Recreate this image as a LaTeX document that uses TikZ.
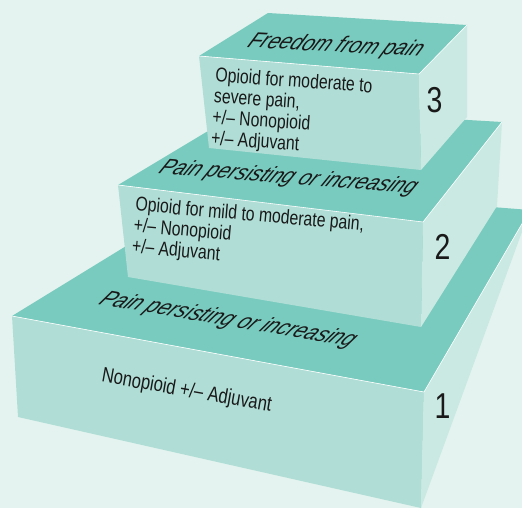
\documentclass[tikz,border=0pt]{standalone}
\usepackage{fontspec}
\newfontfamily\ladderfont{Liberation Sans}[FakeStretch=0.79]
\definecolor{LadderTop}{RGB}{121,203,191}
\definecolor{LadderFront}{RGB}{176,222,214}
\definecolor{LadderSide}{RGB}{201,233,226}
\definecolor{LadderBack}{RGB}{228,243,239}

\begin{document}
\begin{tikzpicture}[x=1pt, y=-1pt,
        topface/.style={fill=LadderTop},
        frontface/.style={fill=LadderFront},
        sideface/.style={fill=LadderSide},
        edgeline/.style={draw=white, line width=0.6pt, line join=round},
        fronttext/.style={font=\ladderfont\fontsize{20}{21}\selectfont, align=left, anchor=north west, inner sep=0pt, text=black!90},
        toptext/.style={font=\ladderfont\itshape\fontsize{20}{20}\selectfont, anchor=base west, inner sep=0pt, text=black!90},
        levelnum/.style={font=\ladderfont\fontsize{36}{36}\selectfont, inner sep=0pt, text=black!90}
    ]
        \useasboundingbox (0,0) rectangle (522,508);
        \clip (0,0) rectangle (522,508);
        \fill[LadderBack] (0,0) rectangle (522,508);

        % level 1
        \coordinate (a1) at (12,316);
        \coordinate (b1) at (424,392);
        \coordinate (c1) at (421,508);
        \coordinate (d1) at (18,417);
        \coordinate (e1) at (530,210);
        \coordinate (f1) at (224,186);
        \fill[topface] (a1) -- (b1) -- (e1) -- (f1) -- cycle;
        \fill[frontface] (a1) -- (b1) -- (c1) -- (d1) -- cycle;
        \fill[sideface] (b1) -- (e1) -- (c1) -- cycle;
        \draw[edgeline] (a1) -- (b1) -- (e1);

        % level 2
        \coordinate (a2) at (118,185);
        \coordinate (b2) at (423,222);
        \coordinate (c2) at (421,327);
        \coordinate (d2) at (128,277);
        \coordinate (e2) at (502,122);
        \coordinate (f2) at (248,107);
        \coordinate (g2) at (497,206);
        \fill[topface] (a2) -- (b2) -- (e2) -- (f2) -- cycle;
        \fill[frontface] (a2) -- (b2) -- (c2) -- (d2) -- cycle;
        \fill[sideface] (b2) -- (e2) -- (g2) -- (c2) -- cycle;
        \draw[edgeline] (a2) -- (b2) -- (e2);

        % level 3
        \coordinate (a3) at (199,56);
        \coordinate (b3) at (419,74);
        \coordinate (c3) at (421,170);
        \coordinate (d3) at (209,148);
        \coordinate (e3) at (467,25);
        \coordinate (f3) at (268,13);
        \coordinate (g3) at (467,117);
        \fill[topface] (a3) -- (b3) -- (e3) -- (f3) -- cycle;
        \fill[frontface] (a3) -- (b3) -- (c3) -- (d3) -- cycle;
        \fill[sideface] (b3) -- (e3) -- (g3) -- (c3) -- cycle;
        \draw[edgeline] (a3) -- (b3) -- (e3);

        % labels on the top faces
        \node[toptext, cm={1.272,-0.215,0.8,1.0,(0,0)}] (top1) at (97.3,304) {Pain persisting or increasing};
        \node[toptext, cm={1.286,-0.101,0.65,1.05,(0,0)}] (top2) at (157.3,173.3) {Pain persisting or increasing};
        \node[toptext, cm={1.298,-0.068,0.6,1.08,(0,0)}] (top3) at (246,47.3) {Freedom from pain};

        % labels on the front faces
        \node[fronttext, font=\ladderfont\fontsize{21}{21}\selectfont, rotate=-10] (text1) at (103.5,366.5) {Nonopioid +/– Adjuvant};
        \node[fronttext, rotate=-5] (text2) at (136.3,196.2) {Opioid for mild to moderate pain,\\+/– Nonopioid\\+/– Adjuvant};
        \node[fronttext, rotate=-4] (text3) at (216,67) {Opioid for moderate to\\severe pain,\\+/– Nonopioid\\+/– Adjuvant};

        \node[levelnum] (num1) at (442.5,406.5) {1};
        \node[levelnum] (num2) at (442.5,246.5) {2};
        \node[levelnum] (num3) at (434.5,100) {3};
    \end{tikzpicture}
\end{document}
